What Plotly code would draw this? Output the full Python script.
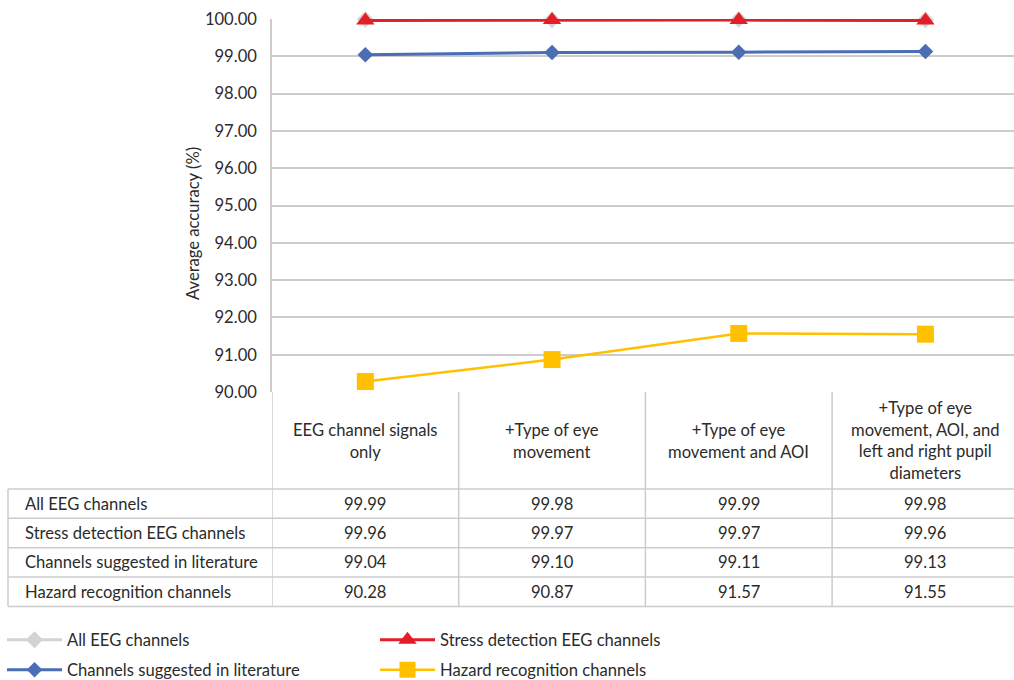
import plotly.graph_objects as go

# ---- data -----------------------------------------------------------------
categories = [
    "EEG channel signals<br>only",
    "+Type of eye<br>movement",
    "+Type of eye<br>movement and AOI",
    "+Type of eye<br>movement, AOI, and<br>left and right pupil<br>diameters",
]
series_names = [
    "All EEG channels",
    "Stress detection EEG channels",
    "Channels suggested in literature",
    "Hazard recognition channels",
]
all_eeg = [99.99, 99.98, 99.99, 99.98]
stress_eeg = [99.96, 99.97, 99.97, 99.96]
literature = [99.04, 99.10, 99.11, 99.13]
hazard = [90.28, 90.87, 91.57, 91.55]
y_ticks = [90, 91, 92, 93, 94, 95, 96, 97, 98, 99, 100]

series_values = [all_eeg, stress_eeg, literature, hazard]

# ---- styling --------------------------------------------------------------
FONT = "Lato"
FS = 16.6
TXT = "#2b2b2b"
GRID = "#cccccc"
W, H = 1014, 680
PLOT_L, PLOT_T, PLOT_B = 272, 19, 392          # plot area in pixels
PLOT_W = W - PLOT_L
PLOT_H = PLOT_B - PLOT_T
COL_W = 186.7                                  # width of one category column
X_MAX = -0.5 + PLOT_W / COL_W

styles = [
    dict(color="#d3d3d3", symbol="diamond", size=13, width=3),
    dict(color="#e31e26", symbol="triangle-up", size=16, width=3),
    dict(color="#4a6db3", symbol="diamond", size=12, width=3),
    dict(color="#ffc000", symbol="square", size=17, width=2.5),
]
legend_of = ["legend", "legend", "legend2", "legend2"]


def px_x(px):
    return (px - PLOT_L) / PLOT_W


def px_y(py):
    return (PLOT_B - py) / PLOT_H


xs = list(range(len(categories)))

fig = go.Figure()
for name, vals, st, lg in zip(series_names, series_values, styles, legend_of):
    fig.add_trace(go.Scatter(
        x=xs, y=vals, name=name, mode="lines+markers",
        line=dict(color=st["color"], width=st["width"]),
        marker=dict(symbol=st["symbol"], size=st["size"], color=st["color"],
                    line=dict(width=0)),
        cliponaxis=False, legend=lg,
    ))

# ---- data table below the plot -------------------------------------------
header_top, header_bot = 392, 489
row_edges = [489, 518.3, 547.7, 577, 606.5]
table_left = 8
line_style = dict(color=GRID, width=1.5)

shapes = []
# horizontal rules of the value rows
for yy in row_edges:
    shapes.append(dict(type="line", xref="paper", yref="paper",
                       x0=px_x(table_left), x1=1.02, y0=px_y(yy), y1=px_y(yy),
                       line=line_style, layer="above"))
# column separators (header + rows)
for b in [-0.5, 0.5, 1.5, 2.5, 3.5]:
    shapes.append(dict(type="line", xref="x", yref="paper",
                       x0=b, x1=b, y0=px_y(header_top), y1=px_y(row_edges[-1]),
                       line=line_style, layer="above"))
# outer left border of the row-label column
shapes.append(dict(type="line", xref="paper", yref="paper",
                   x0=px_x(table_left), x1=px_x(table_left),
                   y0=px_y(row_edges[0]), y1=px_y(row_edges[-1]),
                   line=line_style, layer="above"))

annotations = []
for i, cat in enumerate(categories):
    annotations.append(dict(
        x=i, xref="x", y=px_y((header_top + header_bot) / 2), yref="paper",
        text=cat, showarrow=False, xanchor="center", yanchor="middle",
        font=dict(family=FONT, size=FS, color=TXT), align="center"))

for r, (name, vals) in enumerate(zip(series_names, series_values)):
    yc = px_y((row_edges[r] + row_edges[r + 1]) / 2)
    annotations.append(dict(
        x=px_x(23), xref="paper", y=yc, yref="paper", text=name,
        showarrow=False, xanchor="left", yanchor="middle",
        font=dict(family=FONT, size=FS, color=TXT)))
    for i, v in enumerate(vals):
        annotations.append(dict(
            x=i, xref="x", y=yc, yref="paper", text=f"{v:.2f}",
            showarrow=False, xanchor="center", yanchor="middle",
            font=dict(family=FONT, size=FS, color=TXT)))

# y-axis title
annotations.append(dict(
    x=px_x(193), xref="paper", y=px_y(224), yref="paper",
    text="Average accuracy (%)", textangle=-90, showarrow=False,
    xanchor="center", yanchor="middle",
    font=dict(family=FONT, size=FS, color=TXT)))

legend_common = dict(
    orientation="h", xanchor="left", yanchor="middle",
    font=dict(family=FONT, size=FS, color=TXT),
    entrywidth=303, entrywidthmode="pixels", itemwidth=55,
    bgcolor="rgba(0,0,0,0)", traceorder="normal",
)

fig.update_layout(
    width=W, height=H,
    margin=dict(l=PLOT_L, r=0, t=PLOT_T, b=H - PLOT_B, pad=0,
                autoexpand=False),
    paper_bgcolor="white", plot_bgcolor="white",
    font=dict(family=FONT, size=FS, color=TXT),
    showlegend=True,
    legend=dict(x=px_x(2), y=px_y(640), **legend_common),
    legend2=dict(x=px_x(2), y=px_y(670), **legend_common),
    xaxis=dict(range=[-0.5, X_MAX], showgrid=False, zeroline=False,
               showticklabels=False, ticks="", showline=False, fixedrange=True),
    yaxis=dict(range=[90, 100], tickvals=y_ticks, tickformat=".2f",
               showgrid=True, gridcolor=GRID, gridwidth=1.5,
               zeroline=False, showline=True, linecolor=GRID, linewidth=1.5,
               ticks="", ticklabelstandoff=10,
               tickfont=dict(family=FONT, size=FS, color=TXT)),
    shapes=shapes,
    annotations=annotations,
)

fig.write_html("out.html")
